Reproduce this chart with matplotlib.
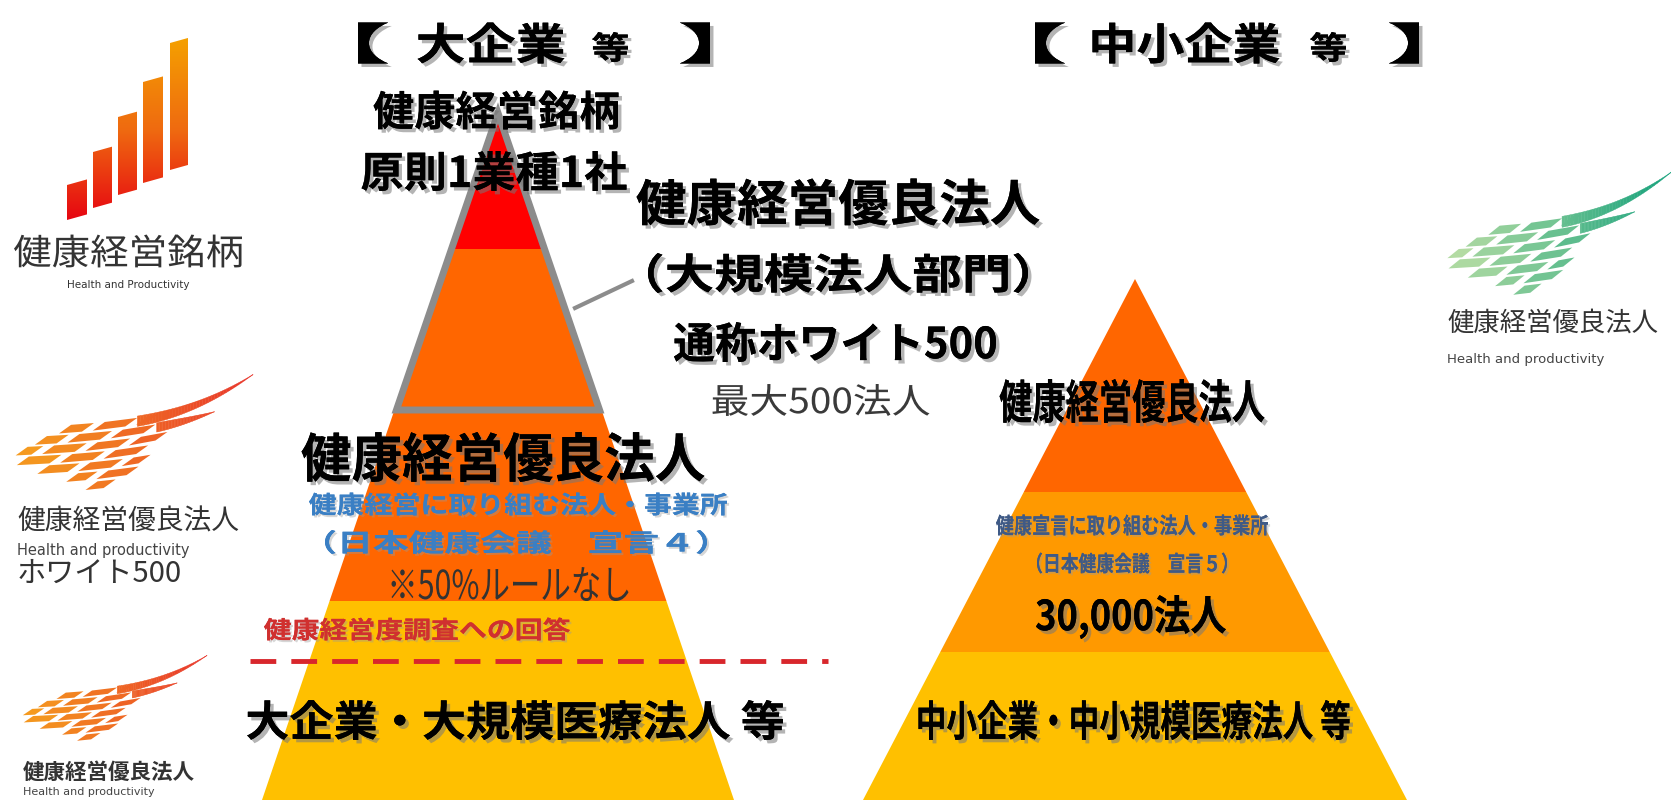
import numpy as np
import matplotlib
matplotlib.use("Agg")
import matplotlib.pyplot as plt
import matplotlib.patheffects as pe
from matplotlib.patches import Polygon
from matplotlib.transforms import Affine2D
from matplotlib.colors import LinearSegmentedColormap

plt.rcParams['font.family'] = ['Noto Sans CJK JP', 'DejaVu Sans']

# ---------------- data ----------------
# large-company pyramid: apex, layer boundaries (px rows), colours
large_apex = (498, 105)
large_base_halfwidth = 236
large_bounds = [105, 249, 601, 800]
large_colors = ['#FF0000', '#FF6600', '#FFC000']
white500_bottom = 413

# SME pyramid
small_apex = (1135, 279)
small_base_halfwidth = 272
small_bounds = [279, 492, 652, 800]
small_colors = ['#FF6600', '#FF9900', '#FFC000']

titles = ['【', '大企業', '等', '】', '【', '中小企業', '等', '】']

# bar-logo bars: left x, width, bottom-left y, height
bar_left = [67, 93, 118, 143, 170]
bar_width = [20, 19, 19, 20, 18]
bar_bottom = [220, 208, 195, 183, 170]
bar_height = [35, 56, 78, 101, 127]

# ---------------- figure ----------------
W, H = 1671, 800
fig = plt.figure(figsize=(16.71, 8.0), dpi=100)
ax = fig.add_axes([0, 0, 1, 1])
ax.set_xlim(0, W)
ax.set_ylim(H, 0)
ax.axis('off')

shadow = [pe.withSimplePatchShadow(offset=(2.5, -2.5), shadow_rgbFace='#777777', alpha=0.55), pe.Normal()]
soft = [pe.withSimplePatchShadow(offset=(1.5, -1.5), shadow_rgbFace='#999999', alpha=0.4), pe.Normal()]
plain = [pe.Normal()]


class BoxFit(pe.AbstractPathEffect):
    """Maps the ink of a text onto a w x h box centred at (cx, cy) (data px), then applies inner effects."""

    def __init__(self, cx, cy, w, h, inner):
        super().__init__()
        self.c = (cx, cy)
        self.w, self.h = w, h
        self.inner = inner

    def draw_path(self, renderer, gc, tpath, affine, rgbFace=None):
        bb = tpath.get_extents(affine)
        X, Y = ax.transData.transform(self.c)
        p0 = ax.transData.transform((0, 0))
        p1 = ax.transData.transform((1, 1))
        kx, ky = abs(p1[0] - p0[0]), abs(p1[1] - p0[1])
        if bb.width <= 0 or bb.height <= 0:
            new = affine
        else:
            new = affine + Affine2D().translate(-(bb.x0 + bb.x1) / 2, -(bb.y0 + bb.y1) / 2) \
                .scale(self.w * kx / bb.width, self.h * ky / bb.height).translate(X, Y)
        for e in self.inner:
            e.draw_path(renderer, gc, tpath, new, rgbFace)


def CT(cx, cy, s, w, h, color='black', weight='bold', eff=shadow):
    ax.text(cx, cy, s, fontsize=0.82 * h, color=color, fontweight=weight, ha='center', va='center',
            zorder=10, path_effects=[BoxFit(cx, cy, w, h, eff)])


def pyramid(apex, base_hw, bounds, colors):
    ax_, ay = apex
    slope = base_hw / (800 - ay)
    for (ytop, ybot), c in zip(zip(bounds[:-1], bounds[1:]), colors):
        ht = (ytop - ay) * slope
        hb = (ybot - ay) * slope
        pts = [(ax_ - ht, ytop), (ax_ + ht, ytop), (ax_ + hb, ybot), (ax_ - hb, ybot)]
        ax.add_patch(Polygon(pts, closed=True, facecolor=c, edgecolor='none', zorder=2))
    return slope


sl = pyramid(large_apex, large_base_halfwidth, large_bounds, large_colors)
ins = 3
hb = (white500_bottom - large_apex[1]) * sl
ax.add_patch(Polygon([(large_apex[0], large_apex[1] + 8), (large_apex[0] + hb - ins, white500_bottom - ins),
                      (large_apex[0] - hb + ins, white500_bottom - ins)], closed=True,
                     facecolor='none', edgecolor='#8C8C8C', lw=5, joinstyle='miter', zorder=3))
ax.plot([575, 632], [308, 281], color='#8C8C8C', lw=3, zorder=3)

pyramid(small_apex, small_base_halfwidth, small_bounds, small_colors)

# dashed line
ax.plot([250, 828], [661, 661], color='#D8262C', lw=3.5, linestyle=(0, (5.3, 3.1)), zorder=4)

# ---------------- titles ----------------
CT(373, 43, titles[0], 30, 41)
CT(491, 43, titles[1], 147, 41)
CT(610, 47, titles[2], 36, 30)
CT(695, 43, titles[3], 30, 41)
CT(1050, 43, titles[4], 30, 41)
CT(1186, 43, titles[5], 187, 41)
CT(1328, 47, titles[6], 36, 30)
CT(1404, 43, titles[7], 30, 41)

# ---------------- large pyramid text ----------------
CT(496, 110, '健康経営銘柄', 245, 39)
CT(494, 171, '原則1業種1社', 265, 40)
CT(838, 202, '健康経営優良法人', 403, 47)
CT(838, 273, '（大規模法人部門）', 380, 40)
CT(835, 342, '通称ホワイト500', 322, 40)
CT(821, 400, '最大500法人', 217, 32, color='#3A3A3A', weight='normal', eff=plain)
CT(503, 457, '健康経営優良法人', 403, 50)
CT(518, 504, '健康経営に取り組む法人・事業所', 418, 23, color='#3A7FC4', eff=soft)
CT(516, 542, '（日本健康会議　宣言４）', 382, 24, color='#3A7FC4', eff=soft)
CT(510, 584, '※50%ルールなし', 237, 34, color='#333333', weight='normal', eff=plain)
CT(417, 629, '健康経営度調査への回答', 306, 23, color='#D0302F', eff=soft)
CT(515, 720, '大企業・大規模医療法人 等', 536, 40)

# ---------------- small pyramid text ----------------
CT(1132, 401, '健康経営優良法人', 265, 44)
CT(1132, 525, '健康宣言に取り組む法人・事業所', 272, 21, color='#3F5A86', eff=soft)
CT(1132, 563, '（日本健康会議　宣言５）', 190, 21, color='#3F5A86', eff=soft)
CT(1131, 617, '30,000法人', 190, 44)
CT(1134, 720, '中小企業・中小規模医療法人 等', 431, 40)

# ---------------- bar logo ----------------
grad = np.linspace(1, 0, 256).reshape(-1, 1)
bar_cmap = LinearSegmentedColormap.from_list('bars', ['#E60012', '#EF6A10', '#F5A200'])
for xl, w, yb, h in zip(bar_left, bar_width, bar_bottom, bar_height):
    s = 0.28 * w
    pts = [(xl, yb), (xl + w, yb - s), (xl + w, yb - s - h), (xl, yb - h)]
    poly = Polygon(pts, closed=True, facecolor='none', edgecolor='none')
    ax.add_patch(poly)
    im = ax.imshow(grad, cmap=bar_cmap, extent=(60, 195, 225, 35), aspect='auto', zorder=5,
                   interpolation='bilinear')
    im.set_clip_path(poly)
ax.text(128, 251, '健康経営銘柄', fontsize=25, color='#333333', ha='center', va='center', zorder=10,
        path_effects=[BoxFit(128, 251, 228, 33, plain)])
ax.text(128, 285, 'Health and Productivity', fontsize=7.5, color='#333333', ha='center', va='center',
        family='DejaVu Sans', zorder=10)


# ---------------- wing logos ----------------
def wing(x0, y0, x1, y1, cl, cr):
    Wd, Hd = x1 - x0, y1 - y0
    cm = LinearSegmentedColormap.from_list('w', [cl, cr])

    def P(u, v):
        return (x0 + u * Wd, y1 - v * Hd)

    def vc(j, u):
        return 0.53 - 0.085 * j + 0.1 * u + 0.3 * u ** 3

    starts = [0.22, 0.12, 0.04, 0.0, 0.13, 0.25, 0.33]
    ends = [0.58, 0.60, 0.62, 0.58, 0.55, 0.50, 0.46]
    th = 0.075
    per = 0.18
    cell = 0.135
    sk = 0.025
    for j in range(7):
        ph = (j % 2) * per / 2 - j * 0.015
        for k in range(-3, 10):
            ua = ph + k * per
            ub = ua + cell
            ua_c, ub_c = max(ua, starts[j]), min(ub, ends[j])
            if ub_c - ua_c < 0.03:
                continue
            pts = [P(ua_c + sk, vc(j, ua_c) + th / 2), P(ub_c + sk, vc(j, ub_c) + th / 2),
                   P(ub_c - sk, vc(j, ub_c) - th / 2), P(ua_c - sk, vc(j, ua_c) - th / 2)]
            ax.add_patch(Polygon(pts, closed=True, facecolor=cm((ua_c + ub_c) / 2), edgecolor='none', zorder=5))
    # tails
    for j, ua, ub, rise, t0 in [(0, 0.52, 1.0, 0.10, 0.09), (1, 0.60, 0.84, 0.0, 0.08)]:
        us = np.linspace(ua, ub, 40)

        def vv(u):
            return vc(j, u) + rise * ((u - ua) / (ub - ua)) ** 2

        def tt(u):
            return t0 * max(0.05, 1 - ((u - ua) / (ub - ua)) ** 1.6)

        for a, b in zip(us[:-1], us[1:]):
            c = cm(min(1, (a + b) / 2))
            pts = [P(a, vv(a) + tt(a) / 2), P(b, vv(b) + tt(b) / 2),
                   P(b, vv(b) - tt(b) / 2), P(a, vv(a) - tt(a) / 2)]
            ax.add_patch(Polygon(pts, closed=True, facecolor=c, edgecolor=c, lw=0.3, zorder=5))


wing(12, 378, 253, 493, '#F6A21E', '#E8332A')
ax.text(17, 522, '健康経営優良法人', fontsize=20, color='#333333', ha='left', va='center', zorder=10)
ax.text(17, 550, 'Health and productivity', fontsize=10.5, color='#444444', ha='left', va='center',
        family='DejaVu Sans', zorder=10)
ax.text(17, 574, 'ホワイト500', fontsize=21, color='#333333', ha='left', va='center', zorder=10)

wing(20, 658, 207, 743, '#F6A21E', '#E8332A')
ax.text(23, 772, '健康経営優良法人', fontsize=15.5, color='#333333', fontweight='bold', ha='left',
        va='center', zorder=10)
ax.text(23, 792, 'Health and productivity', fontsize=8, color='#444444', ha='left', va='center',
        family='DejaVu Sans', zorder=10)

wing(1444, 176, 1671, 298, '#BFE0A6', '#12A07A')
ax.text(1447, 323, '健康経営優良法人', fontsize=19, color='#333333', ha='left', va='center', zorder=10)
ax.text(1447, 360, 'Health and productivity', fontsize=9.5, color='#444444', ha='left', va='center',
        family='DejaVu Sans', zorder=10)

fig.savefig('out.png', dpi=100, facecolor='white')
